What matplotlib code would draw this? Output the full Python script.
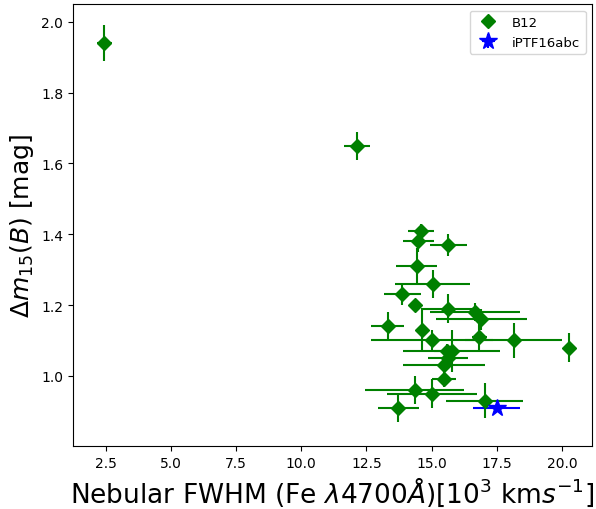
import matplotlib
matplotlib.use("Agg")
import matplotlib.pyplot as plt

# B12 sample: nebular FWHM (10^3 km/s) vs Delta m15(B)
fwhm = [2.45, 12.12, 14.59, 14.49, 15.64, 14.42, 15.04, 13.88, 14.36, 15.62,
        16.67, 16.90, 13.31, 14.62, 15.02, 16.83, 18.14, 20.25, 15.58, 15.77,
        15.62, 15.48, 15.48, 14.36, 15.02, 13.72, 17.03]
fwhm_err = [0.30, 0.50, 0.50, 0.60, 0.70, 0.79, 1.45, 0.71, 0.0, 1.04,
            1.73, 1.75, 0.64, 0.10, 2.33, 0.30, 1.86, 0.0, 0.50, 1.85,
            0.77, 1.57, 0.47, 1.90, 1.73, 0.78, 1.49]
dm15 = [1.94, 1.65, 1.41, 1.38, 1.37, 1.31, 1.26, 1.23, 1.20, 1.19,
        1.18, 1.16, 1.14, 1.13, 1.10, 1.11, 1.10, 1.08, 1.07, 1.07,
        1.05, 1.03, 0.99, 0.96, 0.95, 0.91, 0.93]
dm15_err = [0.05, 0.04, 0.02, 0.03, 0.03, 0.05, 0.04, 0.03, 0.0, 0.04,
            0.025, 0.03, 0.04, 0.06, 0.03, 0.04, 0.05, 0.04, 0.02, 0.06,
            0.02, 0.02, 0.02, 0.04, 0.04, 0.04, 0.05]

# iPTF16abc
abc_fwhm = [17.5]
abc_fwhm_err = [0.9]
abc_dm15 = [0.91]
abc_dm15_err = [0.01]

fig = plt.figure(figsize=(5.96, 5.10), dpi=100)
ax = fig.add_axes([0.1225, 0.1235, 0.871, 0.8665])

ax.errorbar(fwhm, dm15, xerr=fwhm_err, yerr=dm15_err, fmt='D', color='green',
            ms=7, label='B12')
ax.errorbar(abc_fwhm, abc_dm15, xerr=abc_fwhm_err, yerr=abc_dm15_err, fmt='*',
            color='blue', ms=13, label='iPTF16abc')

ax.set_xlabel(r'Nebular FWHM (Fe $\lambda 4700\AA$)[$10^3$ km$s^{-1}$]', fontsize=19)
ax.set_ylabel(r'$\Delta m_{15}(B)$ [mag]', fontsize=18)
ax.set_ylim(0.802, 2.05)

ax.legend(loc='upper right', fontsize=9.5)

fig.savefig('out.png', dpi=100)
